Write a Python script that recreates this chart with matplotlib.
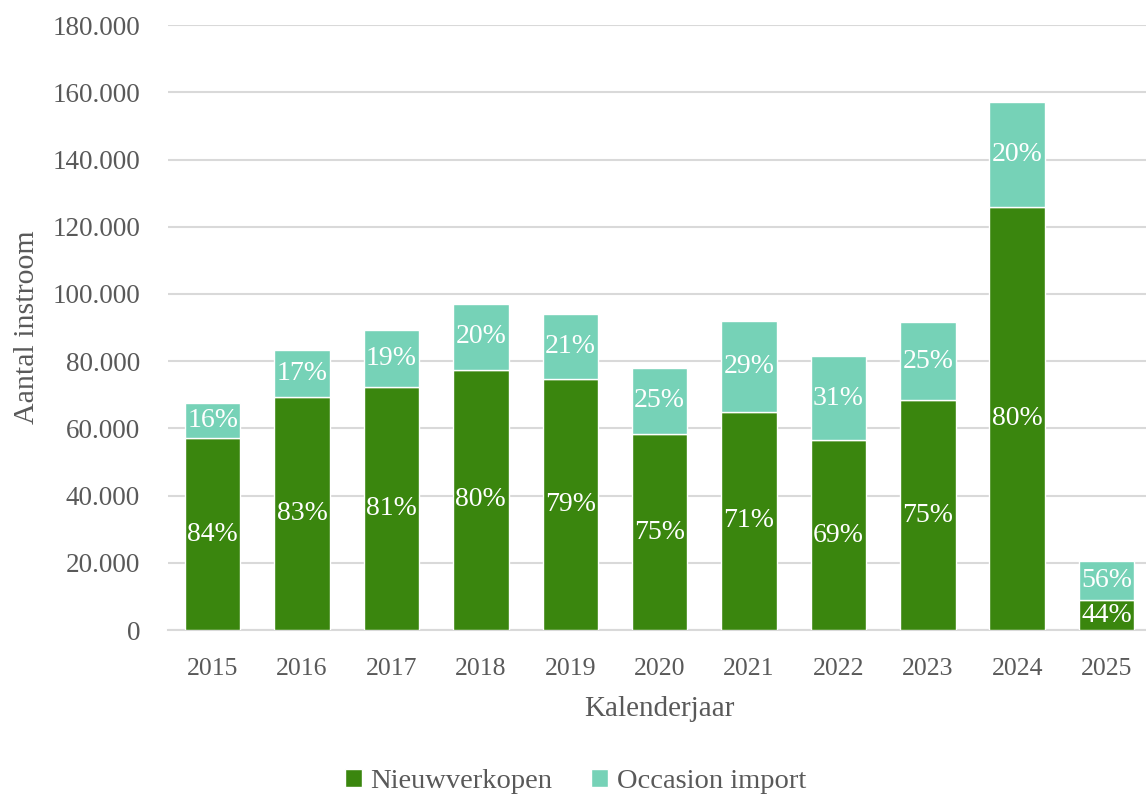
import numpy as np
import matplotlib
matplotlib.use("Agg")
import matplotlib.pyplot as plt

plt.rcParams['font.family'] = ['Liberation Serif', 'DejaVu Serif']

# data
years = ['2015', '2016', '2017', '2018', '2019', '2020', '2021', '2022', '2023', '2024', '2025']
nieuw = [57100, 69300, 72300, 77400, 74700, 58300, 64900, 56500, 68400, 125900, 8900]
occasion = [10400, 14000, 17000, 19600, 19300, 19700, 27000, 25000, 23200, 31200, 11600]
pct_nieuw = ['84%', '83%', '81%', '80%', '79%', '75%', '71%', '69%', '75%', '80%', '44%']
pct_occasion = ['16%', '17%', '19%', '20%', '21%', '25%', '29%', '31%', '25%', '20%', '56%']

dark_green = '#3a860e'
mint = '#76d2b7'
text_grey = '#595959'

fig = plt.figure(figsize=(11.46, 7.96), dpi=100)
ax = fig.add_axes([0.1466, 0.2085, 0.858, 0.760])

x = np.arange(len(years))
w = 0.62
b1 = ax.bar(x, nieuw, width=w, color=dark_green, edgecolor='white', linewidth=1, label='Nieuwverkopen', zorder=3)
b2 = ax.bar(x, occasion, width=w, bottom=nieuw, color=mint, edgecolor='white', linewidth=1, label='Occasion import', zorder=3)

# percentage labels in the middle of each segment
for i in range(len(years)):
    ax.text(x[i], nieuw[i] / 2, pct_nieuw[i], ha='center', va='center', color='white', fontsize=20, zorder=4)
    ax.text(x[i], nieuw[i] + occasion[i] / 2, pct_occasion[i], ha='center', va='center', color='white', fontsize=20, zorder=4)

ax.set_ylim(0, 180000)
ax.set_xlim(-0.5, 10.5)
ax.set_yticks(np.arange(0, 180001, 20000))
ax.set_yticklabels([f"{int(v):,}".replace(',', '.') for v in np.arange(0, 180001, 20000)])
ax.set_xticks(x)
ax.set_xticklabels(years)
ax.yaxis.grid(True, color='#d9d9d9', linewidth=1.5, zorder=0)
ax.set_axisbelow(True)
for s in ['top', 'right', 'left']:
    ax.spines[s].set_visible(False)
ax.spines['bottom'].set_color('#d9d9d9')
ax.spines['bottom'].set_linewidth(1.5)
ax.tick_params(axis='x', length=0, labelsize=18.5, colors=text_grey, pad=20)
ax.tick_params(axis='y', length=0, labelsize=19.5, colors=text_grey, pad=20)

ax.set_ylabel('Aantal instroom', fontsize=21.5, color=text_grey, labelpad=9)
ax.set_xlabel('Kalenderjaar', fontsize=21, color=text_grey, labelpad=12)

fig.legend(handles=[b1, b2], loc='lower center', bbox_to_anchor=(0.502, -0.03), ncol=2, frameon=False,
           fontsize=20.5, labelcolor=text_grey, handlelength=0.6, handleheight=0.6, handletextpad=0.3,
           columnspacing=1.35)

fig.savefig('out.png', dpi=100)
